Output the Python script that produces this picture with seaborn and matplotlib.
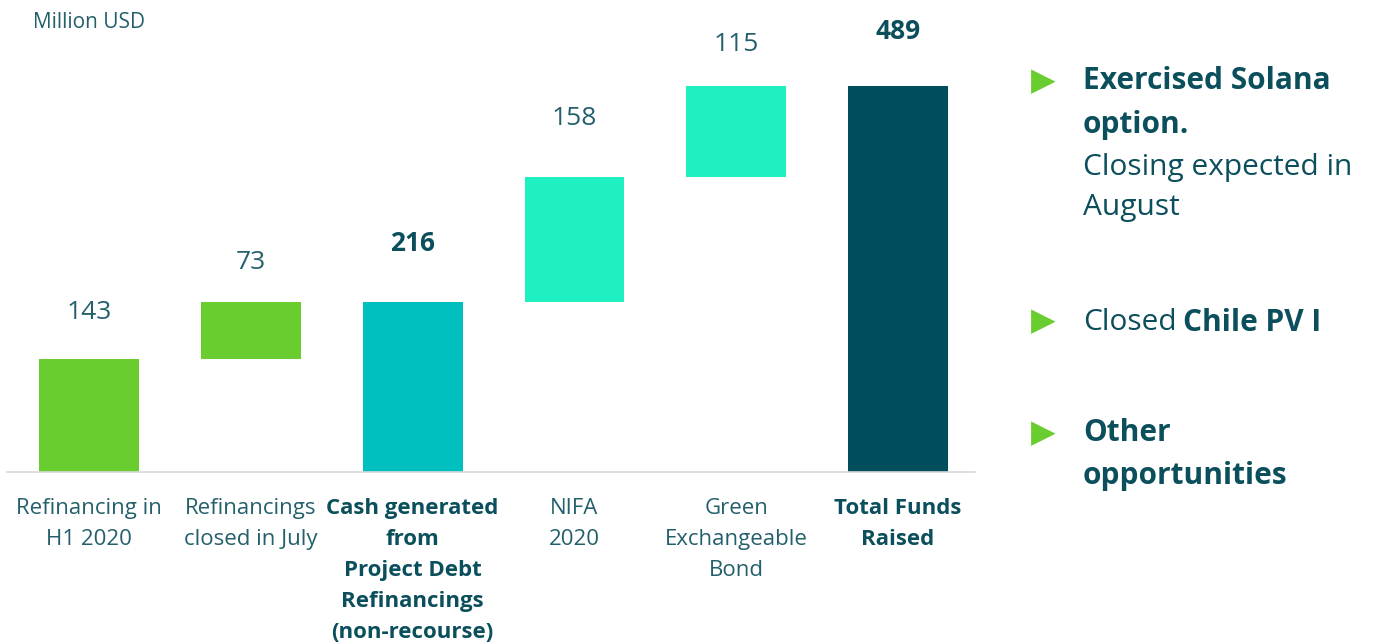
import matplotlib
matplotlib.use("Agg")
import matplotlib.pyplot as plt
import seaborn as sns
import numpy as np

# ---- data ----
categories = ["Refinancing in\nH1 2020", "Refinancings\nclosed in July",
              "Cash generated\nfrom\nProject Debt\nRefinancings\n(non-recourse)",
              "NIFA\n2020", "Green\nExchangeable\nBond", "Total Funds\nRaised"]
values = [143, 73, 216, 158, 115, 489]
is_total = [False, False, True, False, False, True]
unit_label = "Million USD"

# ---- style ----
bar_colors = ["#6ACD2F", "#6ACD2F", "#00BFBF", "#1EF0C2", "#1EF0C2", "#004D5C"]
txt = "#24606B"
dark = "#0B4F5C"
green = "#6ACD2F"

# waterfall bases
bases = []
run = 0
for v, t in zip(values, is_total):
    if t:
        bases.append(0)
        run = v
    else:
        bases.append(run)
        run += v

sns.set_theme(style="white")
plt.rcParams["font.family"] = ["Open Sans", "DejaVu Sans"]

W, H = 1377, 644
fig = plt.figure(figsize=(W / 100, H / 100), dpi=100)
ax = fig.add_axes([7 / W, 1 - 472 / H, (975 - 7) / W, 472 / H])

sns.barplot(x=categories, y=values, hue=categories, palette=bar_colors,
            saturation=1, width=0.617, legend=False, ax=ax, linewidth=0)
for p, b in zip(ax.patches, bases):
    p.set_y(b)

ax.set_xlim(-0.506, 5.475)
ax.set_ylim(0, 472 / 0.789)
for s in ["top", "right", "left"]:
    ax.spines[s].set_visible(False)
ax.spines["bottom"].set_color("#D9D9D9")
ax.spines["bottom"].set_linewidth(1.2)
ax.set_yticks([])
ax.set_ylabel("")
ax.tick_params(axis="x", length=0, pad=18.5)
ax.set_xticks(range(len(categories)))
ax.set_xticklabels(categories, fontsize=16, color=txt, linespacing=1.63, va="top")
for lab, t in zip(ax.get_xticklabels(), is_total):
    if t:
        lab.set_fontweight("bold")
        lab.set_color(dark)

offsets = [47, 39, 58, 58, 42, 55]
for i, (v, b, t) in enumerate(zip(values, bases, is_total)):
    ax.annotate(f"{v}", xy=(i, b + v), xytext=(0, offsets[i]), textcoords="offset pixels",
                ha="center", va="center", fontsize=19,
                fontweight="bold" if t else "normal", color=dark if t else txt)

fig.text(33 / W, 1 - 22 / H, unit_label, fontsize=15, color=txt, ha="left", va="center")

# right panel
def fy(y):
    return 1 - y / H

tx = 1083 / W
bx = 1031 / W
fs = 21.5
for y in [81, 321, 433]:
    fig.text(bx, fy(y + 1), "\u25B6", fontsize=23, color=green, ha="left", va="center",
             family="DejaVu Sans")
fig.text(tx, fy(81), "Exercised Solana", fontsize=fs, fontweight="bold", color=dark, va="center")
fig.text(tx, fy(125), "option.", fontsize=fs, fontweight="bold", color=dark, va="center")
fig.text(tx, fy(167), "Closing expected in", fontsize=fs, color=dark, va="center")
fig.text(tx, fy(208), "August", fontsize=fs, color=dark, va="center")
t1 = fig.text(tx, fy(323), "Closed", fontsize=fs, color=dark, va="center")
ax.annotate("Chile PV I", xy=(1, 0.5), xycoords=t1, xytext=(6, 0), textcoords="offset pixels",
            fontsize=fs, fontweight="bold",
            color=dark, va="center", ha="left", annotation_clip=False)
fig.text(tx, fy(433), "Other", fontsize=fs, fontweight="bold", color=dark, va="center")
fig.text(tx, fy(476), "opportunities", fontsize=fs, fontweight="bold", color=dark, va="center")

fig.savefig("out.png", dpi=100, facecolor="white")
